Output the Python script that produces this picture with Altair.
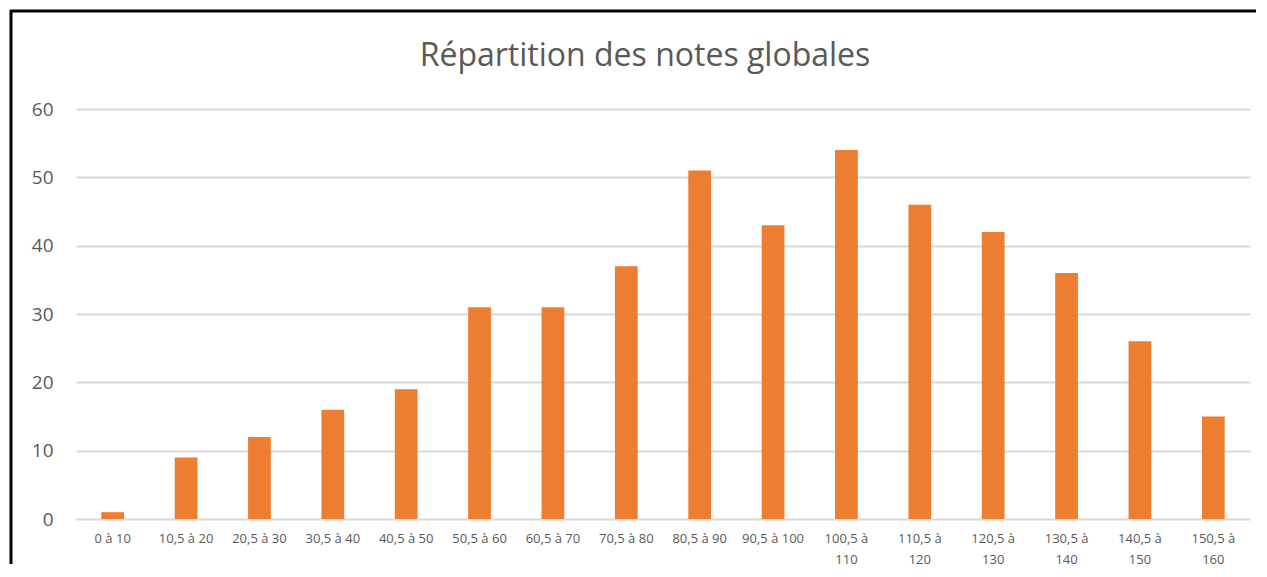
import altair as alt
import pandas as pd

categories = ["0 à 10", "10,5 à 20", "20,5 à 30", "30,5 à 40", "40,5 à 50",
              "50,5 à 60", "60,5 à 70", "70,5 à 80", "80,5 à 90", "90,5 à 100",
              "100,5 à 110", "110,5 à 120", "120,5 à 130", "130,5 à 140",
              "140,5 à 150", "150,5 à 160"]
counts = [1, 9, 12, 16, 19, 31, 31, 37, 51, 43, 54, 46, 42, 36, 26, 15]
y_ticks = [0, 10, 20, 30, 40, 50, 60]
title_text = "Répartition des notes globales"

df = pd.DataFrame({"classe": categories, "n": counts})

W, H = 1174, 410
FONT = "Open Sans"
GREY = "#595959"

label_expr = ("length(datum.label) > 10 ? "
              "[slice(datum.label, 0, lastindexof(datum.label, ' ')), "
              "slice(datum.label, lastindexof(datum.label, ' ') + 1)] : datum.label")

bars = alt.Chart(df).mark_bar(color="#ED7D31").encode(
    x=alt.X("classe:N", sort=categories,
            scale=alt.Scale(paddingInner=0.69, paddingOuter=0.345),
            axis=alt.Axis(title=None, labelAngle=0, domain=False, ticks=False,
                          labelExpr=label_expr, labelFont=FONT, labelFontSize=13,
                          labelColor=GREY, labelPadding=13, labelLineHeight=21,
                          labelBaseline="top")),
    y=alt.Y("n:Q", scale=alt.Scale(domain=[0, 60]),
            axis=alt.Axis(values=y_ticks, title=None, domain=False, ticks=False,
                          gridColor="#D9D9D9", gridWidth=2, labelFont=FONT,
                          labelFontSize=19, labelColor=GREY, labelPadding=23)),
)

frame_df = pd.DataFrame({"k": [0]})
left_line = alt.Chart(frame_df).mark_rule(color="black", strokeWidth=3).encode(
    x=alt.value(-65), y=alt.value(-99), y2=alt.value(455))
top_line = alt.Chart(frame_df).mark_rule(color="black", strokeWidth=3).encode(
    x=alt.value(-66), x2=alt.value(W + 6), y=alt.value(-98))
title_mark = alt.Chart(frame_df).mark_text(
    font=FONT, fontSize=32, color=GREY, align="center", baseline="middle"
).encode(x=alt.value(W / 2 - 18), y=alt.value(-53), text=alt.value(title_text))

chart = alt.layer(bars, left_line, top_line, title_mark).properties(
    width=W, height=H, padding=0, background="white",
).configure_view(stroke="transparent", strokeWidth=0)

chart.save("out.html", embed_options={"renderer": "svg", "actions": False})
